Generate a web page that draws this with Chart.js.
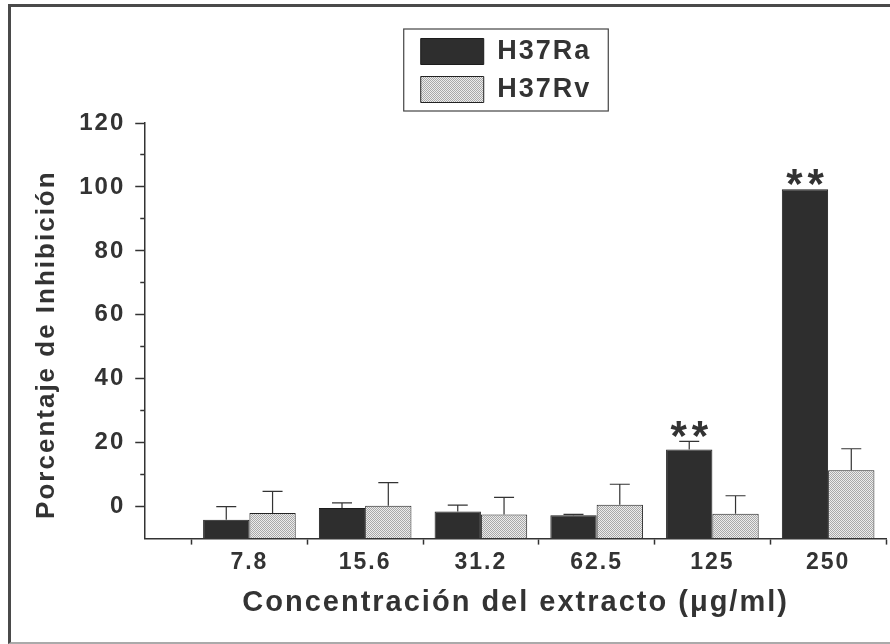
<!DOCTYPE html>
<html>
<head>
<meta charset="utf-8">
<script src="https://cdn.jsdelivr.net/npm/chart.js@4/dist/chart.umd.min.js"></script>
<style>
    html, body { margin: 0; padding: 0; background: #fff; }
    #wrap { position: relative; width: 890px; height: 644px; overflow: hidden; }
    #frame { position: absolute; left: 8px; top: 4px; width: 900px; height: 635px;
             border-left: 3px solid #4a4a4a; border-top: 3px solid #4a4a4a; border-bottom: 2px solid #aaa;
             pointer-events: none; }
    #box { position: absolute; left: 0; top: 0; width: 890px; height: 644px; }
</style>
</head>
<body>
<div id="wrap">
    <div id="box"><canvas id="chart"></canvas></div>
    <div id="frame"></div>
</div>
<script>
// Data
const concs = ['7.8', '15.6', '31.2', '62.5', '125', '250'];
const ra = [-4.1, -0.4, -1.5, -2.7, 17.9, 99.3];
const raErr = [4.1, 1.6, 2.0, 0.3, 2.5, 0];
const rv = [-2.0, 0.3, -2.5, 0.6, -2.2, 11.4];
const rvErr = [6.8, 7.2, 5.4, 6.4, 5.6, 6.7];
const raSig = ['', '', '', '', '**', '**'];

// Axis ticks
const yTicks = [-10, 0, 10, 20, 30, 40, 50, 60, 70, 80, 90, 100, 110, 120];
const yLabels = [0, 20, 40, 60, 80, 100, 120];
const xTicks = [0, 0.5, 1, 1.5, 2, 2.5, 3, 3.5, 4, 4.5, 5, 5.5, 6];

const ink = '#333';
const fontFam = '"Liberation Sans", Arial, sans-serif';

// stippled grey fill for H37Rv
const makeDots = () => {
    const c = document.createElement('canvas');
    c.width = 2; c.height = 2;
    const g = c.getContext('2d');
    g.fillStyle = '#ececec'; g.fillRect(0, 0, 2, 2);
    g.fillStyle = '#a8a8a8'; g.fillRect(0, 0, 1, 1); g.fillRect(1, 1, 1, 1);
    return g.createPattern(c, 'repeat');
};

const spacing = {
    id: 'spacing',
    beforeUpdate(chart) { chart.ctx.letterSpacing = '2px'; },
    beforeDraw(chart) { chart.ctx.letterSpacing = '2px'; }
};

const legendGap = 10;
const legendCenter = 506;
const legendWidth = 260;
const layoutTweaks = {
    id: 'layoutTweaks',
    beforeLayout(chart) {
        const lg = chart.legend;
        if (lg && !lg._padded) {
            const fit = lg.fit.bind(lg);
            // one entry per row, plus some room under the box
            lg.fit = () => { lg.maxWidth = legendWidth; fit(); lg.height += legendGap; };
            lg._padded = true;
        }
    },
    afterLayout(chart) {
        const lg = chart.legend;
        lg.left = legendCenter - legendWidth / 2;
        lg.right = legendCenter + legendWidth / 2;
        lg.width = legendWidth;
    },
    afterDraw(chart) {
        const boxes = chart.legend.legendHitBoxes;
        if (!boxes || !boxes.length) return;
        const l = Math.min(...boxes.map(b => b.left)) - 17;
        const r = Math.max(...boxes.map(b => b.left + b.width)) + 17;
        const t = Math.min(...boxes.map(b => b.top)) - 9;
        const bt = Math.max(...boxes.map(b => b.top + b.height)) + 8;
        const ctx = chart.ctx;
        ctx.save();
        ctx.strokeStyle = '#444';
        ctx.lineWidth = 1.2;
        ctx.strokeRect(l, t, r - l, bt - t);
        ctx.restore();
    }
};

const errorBars = {
    id: 'errorBars',
    afterDatasetsDraw(chart) {
        const ctx = chart.ctx;
        const yScale = chart.scales.y;
        const sets = [[ra, raErr, raSig], [rv, rvErr, null]];
        ctx.save();
        sets.forEach(([vals, errs, sig], di) => {
            const meta = chart.getDatasetMeta(di);
            meta.data.forEach((bar, i) => {
                let top = bar.y;
                if (errs[i] > 0) {
                    const yTop = yScale.getPixelForValue(vals[i] + errs[i]);
                    ctx.strokeStyle = ink;
                    ctx.lineWidth = 1.2;
                    ctx.beginPath();
                    ctx.moveTo(bar.x, bar.y);
                    ctx.lineTo(bar.x, yTop);
                    ctx.moveTo(bar.x - 10, yTop);
                    ctx.lineTo(bar.x + 10, yTop);
                    ctx.stroke();
                    top = yTop;
                }
                if (sig && sig[i]) {
                    ctx.letterSpacing = '5px';
                    ctx.font = 'bold 42px ' + fontFam;
                    ctx.fillStyle = ink;
                    ctx.textAlign = 'center';
                    ctx.textBaseline = 'alphabetic';
                    ctx.fillText(sig[i], bar.x + 2.5, top + 9);
                }
            });
        });
        ctx.restore();
    }
};

const ctx = document.getElementById('chart').getContext('2d');
new Chart(ctx, {
    type: 'bar',
    data: {
        datasets: [{
            label: 'H37Ra',
            data: ra.map((v, i) => ({ x: i + 0.5, y: v })),
            backgroundColor: '#2e2e2e',
            borderColor: '#1c1c1c',
            borderWidth: 1,
            base: -10,
            // min sample gap is the half-step tick spacing, so > 1 here
            categoryPercentage: 1.6,
            barPercentage: 1.0
        }, {
            label: 'H37Rv',
            data: rv.map((v, i) => ({ x: i + 0.5, y: v })),
            backgroundColor: makeDots(),
            borderColor: '#222',
            borderWidth: 1,
            base: -10,
            categoryPercentage: 1.6,
            barPercentage: 1.0
        }]
    },
    options: {
        animation: false,
        responsive: true,
        maintainAspectRatio: false,
        layout: { padding: { left: 27, top: 27, right: 2, bottom: 20 } },
        scales: {
            x: {
                type: 'linear',
                min: -0.4,
                max: 6,
                offset: false,
                afterBuildTicks: axis => { axis.ticks = xTicks.map(v => ({ value: v })); },
                grid: {
                    offset: false,
                    drawOnChartArea: false,
                    tickLength: 6,
                    tickWidth: 1.5,
                    tickColor: c => (c.tick && Number.isInteger(c.tick.value)) ? ink : 'rgba(0,0,0,0)'
                },
                border: { color: ink, width: 1.5 },
                ticks: {
                    autoSkip: false,
                    maxRotation: 0,
                    padding: 4,
                    color: ink,
                    font: { family: fontFam, size: 23, weight: 'bold' },
                    callback: v => Number.isInteger(v) ? '' : concs[Math.floor(v)]
                },
                title: {
                    display: true,
                    text: 'Concentración del extracto (μg/ml)',
                    color: ink,
                    font: { family: fontFam, size: 29, weight: 'bold' },
                    padding: { top: 5, bottom: 4 }
                }
            },
            y: {
                min: -10,
                max: 120,
                afterBuildTicks: axis => { axis.ticks = yTicks.map(v => ({ value: v })); },
                grid: {
                    drawOnChartArea: false,
                    tickLength: 10,
                    tickWidth: 1.5,
                    tickColor: c => (c.tick && c.tick.value === -10) ? 'rgba(0,0,0,0)' : ink,
                    tickBorderDash: c => (c.tick && yLabels.includes(c.tick.value)) ? [] : [5, 100],
                    tickBorderDashOffset: c => (c.tick && yLabels.includes(c.tick.value)) ? 0 : 100
                },
                border: { color: ink, width: 1.5 },
                ticks: {
                    autoSkip: false,
                    padding: 10,
                    color: ink,
                    font: { family: fontFam, size: 24, weight: 'bold' },
                    callback: v => yLabels.includes(v) ? String(v) : ''
                },
                title: {
                    display: true,
                    text: 'Porcentaje de Inhibición   ',
                    color: ink,
                    font: { family: fontFam, size: 26, weight: 'bold' },
                    padding: { top: 4, bottom: 7 }
                }
            }
        },
        plugins: {
            legend: {
                position: 'top',
                fullSize: false,
                labels: {
                    boxWidth: 63,
                    boxHeight: 26,
                    padding: 11,
                    color: ink,
                    font: { family: fontFam, size: 27, weight: 'bold' }
                }
            },
            tooltip: { enabled: false }
        }
    },
    plugins: [spacing, layoutTweaks, errorBars]
});
</script>
</body>
</html>
